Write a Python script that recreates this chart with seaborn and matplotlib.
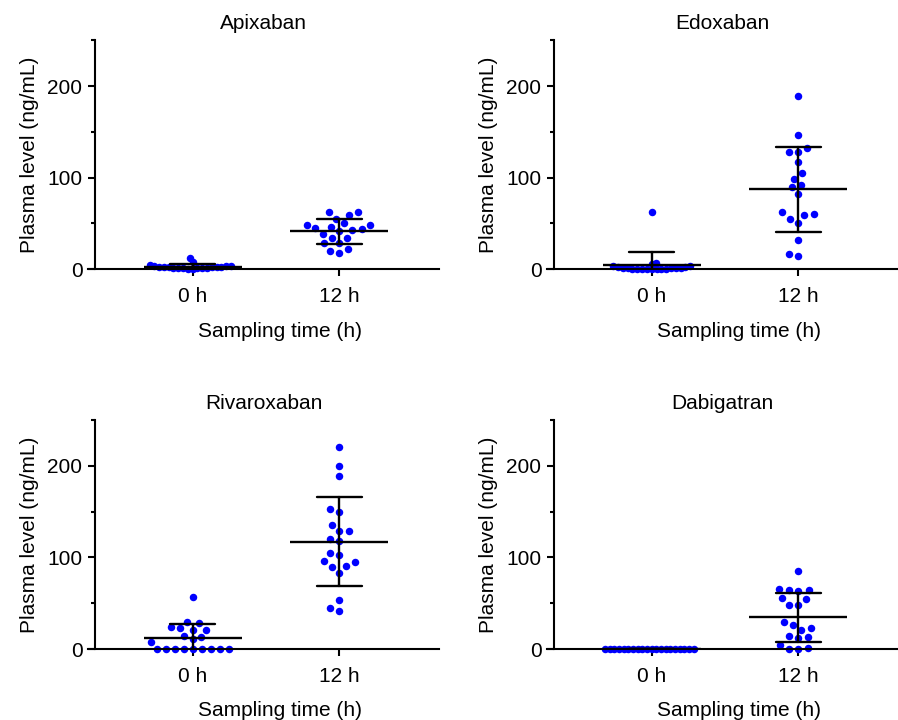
import pandas as pd
import seaborn as sns
import matplotlib.pyplot as plt
from matplotlib.ticker import MultipleLocator

# Plasma levels (ng/mL)
drugs = ["Apixaban", "Edoxaban", "Rivaroxaban", "Dabigatran"]
times = ["0 h", "12 h"]

apixaban_0h = [0.5, 0.8, 1.0, 1.2, 1.4, 1.5, 1.6, 1.8, 1.9, 2.0,
               2.2, 2.4, 2.6, 2.9, 3.2, 3.6, 4.0, 4.6, 8.0, 12.0]
apixaban_12h = [62, 59, 62, 54.6, 48.8, 48.8, 50, 46, 43.7, 41.5,
                42.6, 44.8, 39, 34.6, 33.8, 28.4, 28.4, 21.9, 20.4, 17.5]

edoxaban_0h = [0, 0, 0, 0, 0, 0.5, 0.5, 0.5, 1, 1,
               1, 1.5, 1.5, 2, 2.5, 3, 4, 5.5, 6.5, 63]
edoxaban_12h = [189.4, 147, 132, 127.5, 127.5, 117.3, 105.3, 99, 91.8, 89.3,
                82, 62, 59, 55.4, 60, 51, 32, 16.4, 14.2]

rivaroxaban_0h = [56.6, 27.9, 29, 23.5, 21.3, 21.3, 22.4, 14, 13.3, 10.4,
                  7.8, 0, 0, 0, 0, 0, 0, 0, 0, 0]
rivaroxaban_12h = [220.5, 199.8, 188.5, 153, 149.5, 135.3, 128.4, 128.4, 119.7, 117.5,
                   104.4, 102.5, 96, 95.3, 90.2, 89.4, 83.3, 53.8, 44.3, 41.3]

dabigatran_0h = [0] * 20
dabigatran_12h = [85, 66, 64.3, 63.6, 64, 55.5, 54.8, 48.3, 48.3, 30,
                  26, 22.8, 21, 14, 12.6, 11.5, 4.9, 1.3, 0.5, 0.5]

samples = {
    "Apixaban": (apixaban_0h, apixaban_12h),
    "Edoxaban": (edoxaban_0h, edoxaban_12h),
    "Rivaroxaban": (rivaroxaban_0h, rivaroxaban_12h),
    "Dabigatran": (dabigatran_0h, dabigatran_12h),
}

sns.set_theme(style="ticks", rc={
    "axes.edgecolor": "black", "axes.labelcolor": "black", "text.color": "black",
    "xtick.color": "black", "ytick.color": "black",
})
plt.rcParams["font.family"] = ["Liberation Sans", "DejaVu Sans"]

fig, axes = plt.subplots(2, 2, figsize=(8.98, 7.2), dpi=100)
fig.subplots_adjust(left=0.098, right=1.0, top=0.944, bottom=0.0986,
                    wspace=0.308, hspace=0.659)

# spacing used when laying out each swarm (the piles near zero are packed tighter)
swarm_size = {
    "Apixaban": {"0 h": 3.3, "12 h": 6.6},
    "Edoxaban": {"0 h": 3.3, "12 h": 6.6},
    "Rivaroxaban": {"0 h": 6.2, "12 h": 6.6},
    "Dabigatran": {"0 h": 3.2, "12 h": 6.6},
}

for ax, drug in zip(axes.flat, drugs):
    v0, v12 = samples[drug]
    df = pd.DataFrame({"time": [times[0]] * len(v0) + [times[1]] * len(v12),
                       "level": list(v0) + list(v12)})

    for t in times:
        sns.swarmplot(data=df[df["time"] == t], x="time", y="level", order=times,
                      color="#0000ff", size=swarm_size[drug][t], ax=ax, zorder=2)
    # mean +/- SD
    sns.pointplot(data=df, x="time", y="level", order=times, errorbar="sd",
                  capsize=0.31, color="black", marker="_", markersize=70,
                  markeredgewidth=1.7, linestyle="none",
                  err_kws={"linewidth": 1.7}, ax=ax, zorder=3)

    ax.set_xlim(-0.714, 1.68)
    ax.set_ylim(0, 250)
    ax.spines["left"].set_position(("data", -0.667))
    sns.despine(ax=ax)
    for side in ["left", "bottom"]:
        ax.spines[side].set_linewidth(1.5)

    ax.set_yticks([0, 100, 200])
    ax.yaxis.set_minor_locator(MultipleLocator(50))
    ax.tick_params(which="major", length=5, width=1.5, labelsize=15)
    ax.tick_params(which="minor", length=3, width=1.5)
    ax.tick_params(axis="x", pad=8)
    ax.tick_params(axis="y", pad=4)

    ax.set_title(drug, fontsize=15, pad=8)
    ax.set_xlabel("Sampling time (h)", fontsize=15, labelpad=11)
    ax.xaxis.label.set_x(0.548)
    ax.set_ylabel("Plasma level (ng/mL)", fontsize=15, labelpad=6)

# let seaborn place the swarms first, then give all dots the same size
fig.canvas.draw()
for ax in axes.flat:
    for pts in ax.collections:
        pts.__dict__.pop("draw", None)
        pts.set_sizes([5.4 ** 2])
        pts.set_clip_on(False)

fig.savefig("out.png", dpi=100)
